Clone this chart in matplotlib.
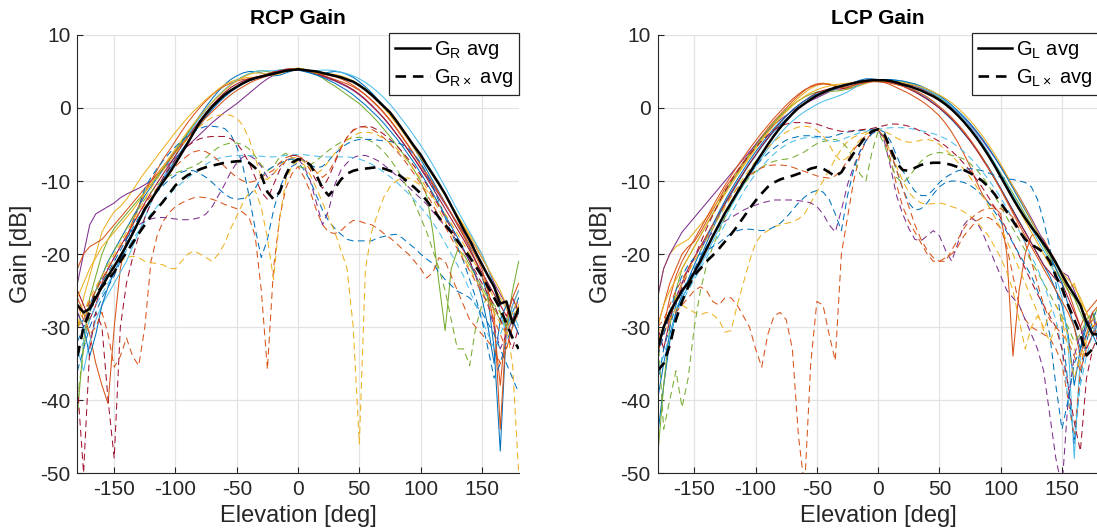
import numpy as np
import matplotlib.pyplot as plt

# elevation grid [deg], 5 deg steps
elev = list(range(-180, 185, 5))

# ---------------- RCP co-pol (solid), one per antenna ----------------
rcp_1 = [-30, -29, -27, -25, -23, -21, -19.5, -18, -16.5, -15, -13.5, -12,
         -10.8, -9.6, -8.4, -7.2, -6, -4.8, -3.5, -2.2, -1, 0.2, 1.3, 2.3,
         3.2, 3.9, 4.4, 4.8, 5.0, 5.0, 4.8, 4.6, 4.4, 4.5, 4.8, 5.1,
         5.3,
         5.1, 4.8, 4.6, 4.7, 4.9, 5.0, 4.9, 4.6, 4.2, 3.6, 2.9, 2.1,
         1.2, 0.3, -0.7, -1.8, -3, -4.3, -5.6, -7, -8.5, -10, -11.5, -13,
         -14.5, -16, -17.5, -19, -21, -23, -26, -33, -47, -30, -28, -26]
rcp_2 = [-26, -28, -31, -35, -38, -40.5, -30, -22, -18, -15.5, -13.5, -11.5,
         -10, -8.5, -7, -5.8, -4.5, -3.2, -2, -0.9, 0.1, 1.0, 1.8, 2.5,
         3.0, 3.4, 3.7, 3.9, 4.0, 4.2, 4.4, 4.7, 5.0, 5.2, 5.3, 5.3,
         5.2,
         5.1, 5.0, 4.8, 4.5, 4.2, 3.9, 3.6, 3.3, 2.9, 2.4, 1.8, 1.1,
         0.3, -0.6, -1.6, -2.7, -3.9, -5.1, -6.4, -7.7, -9, -10.3, -11.7, -13.1,
         -14.5, -16, -17.5, -19.2, -21, -23, -25, -28, -44, -30, -27, -25]
rcp_3 = [-30, -26, -23, -20, -17, -15.5, -14.2, -13.5, -12.5, -11.3, -10, -8.8,
         -7.7, -6.6, -5.5, -4.4, -3.3, -2.3, -1.3, -0.4, 0.4, 1.2, 1.9, 2.6,
         3.2, 3.6, 3.9, 4.1, 4.2, 4.2, 4.3, 4.4, 4.6, 4.9, 5.2, 5.4,
         5.4,
         5.3, 5.1, 4.9, 4.8, 4.7, 4.6, 4.4, 4.1, 3.7, 3.2, 2.6, 1.9,
         1.1, 0.2, -0.8, -1.9, -3.0, -4.2, -5.4, -6.6, -7.9, -9.2, -10.5, -11.9,
         -13.3, -14.7, -16, -17.3, -18.6, -20, -22, -24.5, -26, -27.5, -29, -27]
rcp_4 = [-24, -20, -16, -14.5, -14, -13.5, -13, -12.3, -11.8, -11.4, -11, -10.5,
         -10, -9.2, -8.4, -7.6, -6.8, -6, -5.2, -4.4, -3.6, -2.8, -2, -1.3,
         -0.6, 0, 0.6, 1.3, 2.0, 2.7, 3.4, 4.0, 4.5, 4.9, 5.2, 5.4,
         5.3,
         5.1, 4.9, 4.6, 4.3, 4.0, 3.7, 3.3, 2.9, 2.4, 1.8, 1.1, 0.3,
         -0.5, -1.4, -2.4, -3.5, -4.6, -5.8, -7, -8.2, -9.4, -10.6, -11.9, -13.2,
         -14.5, -15.8, -17, -18, -19, -20.5, -22, -24, -25.5, -27, -29, -31]
rcp_5 = [-42, -32, -26, -23, -20, -18, -16.5, -15.5, -14.5, -13.5, -12.5, -11.5,
         -10.5, -9.4, -8.2, -7, -5.8, -4.6, -3.4, -2.3, -1.2, -0.2, 0.8, 1.7,
         2.5, 3.2, 3.8, 4.3, 4.7, 5.0, 5.1, 5.0, 4.8, 4.8, 5.0, 5.2,
         5.4,
         5.3, 5.0, 4.6, 4.1, 3.5, 3.0, 2.4, 1.8, 1.2, 0.6, -0.2, -1.0,
         -1.9, -2.9, -3.9, -5.0, -6.1, -7.3, -8.6, -10, -12, -17, -24, -30.5,
         -22, -19.5, -20, -21.5, -23, -24.5, -26, -27.5, -29, -30, -25, -21]
rcp_6 = [-33, -36, -32, -29, -27, -25.5, -24, -22.5, -21, -19, -17, -15,
         -13, -11.2, -9.5, -8, -6.6, -5.2, -3.8, -2.5, -1.3, -0.2, 0.8, 1.7,
         2.5, 3.2, 3.8, 4.3, 4.7, 5.0, 5.1, 5.1, 5.1, 5.2, 5.3, 5.4,
         5.3,
         5.2, 5.1, 5.1, 5.2, 5.2, 5.1, 4.9, 4.7, 4.4, 4.0, 3.5, 2.9,
         2.2, 1.4, 0.5, -0.5, -1.6, -2.7, -3.9, -5.1, -6.4, -7.8, -9.3, -10.8,
         -12.4, -14, -15.5, -17, -18.5, -20, -22, -24.5, -28, -31, -27, -25]
rcp_7 = [-25, -27, -29, -27, -24, -22, -20.5, -19, -17.5, -16, -14.5, -13,
         -11.6, -10.3, -9, -7.8, -6.5, -5.2, -4, -2.8, -1.7, -0.6, 0.4, 1.3,
         2.1, 2.8, 3.3, 3.7, 4.0, 4.2, 4.4, 4.6, 4.9, 5.1, 5.3, 5.4,
         5.3,
         5.1, 4.9, 4.7, 4.4, 4.1, 3.8, 3.4, 3.0, 2.5, 1.9, 1.2, 0.4,
         -0.5, -1.4, -2.4, -3.5, -4.6, -5.8, -7, -8.3, -9.6, -11, -12.4, -13.8,
         -15.2, -16.6, -18, -19.5, -21, -22.5, -24, -25.5, -27, -28.5, -26, -28]
rcp_8 = [-28, -30, -34, -31, -27, -24.5, -22.5, -20.7, -19, -17.3, -15.7, -14.1,
         -12.6, -11.2, -9.8, -8.4, -7.1, -5.8, -4.6, -3.4, -2.3, -1.2, -0.2, 0.7,
         1.5, 2.2, 2.8, 3.3, 3.7, 4.0, 4.3, 4.5, 4.6, 4.8, 5.0, 5.2,
         5.2,
         5.0, 4.8, 4.5, 4.2, 3.8, 3.4, 2.9, 2.4, 1.8, 1.1, 0.4, -0.4,
         -1.2, -2.1, -3.1, -4.1, -5.2, -6.4, -7.6, -8.9, -10.3, -11.7, -13.2, -14.7,
         -16.2, -17.7, -19.3, -21, -23, -26, -30, -35, -29, -27, -29, -31]
rcp_9 = [-22, -20, -19, -18.5, -18, -17, -16, -15, -14, -13, -12, -11,
         -10, -9, -8, -7, -6, -5, -4, -3.1, -2.2, -1.3, -0.5, 0.3,
         1.1, 1.8, 2.4, 2.9, 3.4, 3.8, 4.1, 4.4, 4.7, 5.0, 5.2, 5.4,
         5.4,
         5.2, 5.0, 4.8, 4.6, 4.5, 4.3, 4.0, 3.6, 3.1, 2.5, 1.8, 1.0,
         0.2, -0.7, -1.7, -2.8, -4.0, -5.2, -6.5, -7.8, -9.1, -10.4, -11.7, -13,
         -14.4, -15.8, -17.2, -18.7, -20.3, -22, -25, -30, -38, -29, -26, -24]
rcp_10 = [-26, -24, -22, -20.5, -19, -18, -17, -16, -15, -14, -12.8, -11.6,
          -10.4, -9.2, -8, -6.8, -5.6, -4.4, -3.2, -2.1, -1.1, -0.1, 0.8, 1.6,
          2.4, 3.1, 3.7, 4.2, 4.6, 4.8, 4.8, 4.6, 4.5, 4.7, 5.0, 5.3,
          5.5,
          5.3, 5.0, 4.8, 4.7, 4.6, 4.4, 4.2, 3.9, 3.5, 3.0, 2.4, 1.7,
          0.9, 0.0, -1.0, -2.1, -3.2, -4.4, -5.6, -6.8, -8.0, -9.3, -10.6, -12,
          -13.4, -14.8, -16.2, -17.6, -19, -20.5, -22, -23.5, -25, -27, -29, -27]

# ---------------- RCP cross-pol (dashed) ----------------
rcpx_1 = [-36, -33, -30, -28, -26, -24.5, -23, -21, -18.5, -16, -13.5, -11,
          -9.5, -8.3, -7.2, -6.2, -5.3, -4.5, -3.8, -3.2, -2.8, -2.5, -2.5, -2.6,
          -2.8, -3.6, -5.3, -8, -12, -16.5, -20.5, -18, -14, -11, -9, -8,
          -7.5,
          -8.5, -10, -12, -14, -15.5, -16.5, -17.3, -18, -18.2, -18.2, -18.2, -18.2,
          -17.8, -17.6, -17.4, -17.3, -17.8, -18.5, -19.2, -20, -20.7, -21.3, -22.5, -23.5,
          -24.3, -25.1, -25.5, -26, -27, -28, -29.5, -31, -33, -35, -37, -39]
rcpx_2 = [-27, -29, -31, -30, -28, -31, -35.5, -34, -31.5, -34, -35.3, -30,
          -21, -17.5, -15.5, -14.3, -13.5, -13, -12.6, -12.3, -12.2, -12.3, -12.5, -12.8,
          -13.2, -13.5, -13.8, -14.3, -15, -17.5, -25, -35.8, -22, -15, -11, -9,
          -8,
          -9.5, -11.5, -14, -16, -17, -17.2, -16.8, -16, -15.4, -15.5, -15.8, -16,
          -16.5, -17.2, -17.8, -18.5, -19.3, -20, -21, -22, -23.3, -22.5, -20.5, -21,
          -23, -25, -27, -29, -30, -31, -32, -33, -35, -33, -30, -28]
rcpx_3 = [-30, -29, -27, -25, -23.5, -22.5, -21.5, -21, -20.5, -20.3, -20.5, -21,
          -21.2, -21.3, -21.5, -22, -22, -21, -20, -19.6, -20, -20.5, -21, -20,
          -18.6, -16.5, -14.8, -13, -11.6, -11.3, -13.6, -17.8, -23.5, -15, -10, -8,
          -7.2,
          -7.8, -9.2, -11, -13, -15, -17, -19.5, -22, -30, -46, -22, -17,
          -14.4, -12.2, -10.8, -10, -9.6, -9.6, -10, -10.6, -11.3, -12.2, -13.3, -14.5,
          -15.8, -17.2, -18.6, -20, -21.5, -23, -24.5, -26, -28, -30, -35, -50]
rcpx_4 = [-28, -30, -27, -25, -23.5, -22, -20.5, -19, -17.8, -16.8, -16, -15.5,
          -15.2, -15, -15, -15.1, -15.2, -15.3, -15.3, -15.2, -15, -14.5, -13.5, -12,
          -10.5, -8.8, -7.5, -6.7, -6.5, -7, -8, -9.5, -9, -8, -7.2, -6.8,
          -7,
          -8, -10, -13, -16, -14, -10.5, -8.5, -7.5, -6.8, -6.5, -6.5, -6.8,
          -7.2, -7.8, -8.5, -9.2, -10, -10.8, -11.6, -12.4, -13.2, -14.2, -15.2, -16.2,
          -17.2, -18.2, -19.5, -21, -23, -25, -27, -30, -33, -31, -29, -26]
rcpx_5 = [-40, -33, -28, -25, -23, -21, -19.5, -18, -16.5, -15, -13.7, -12.5,
          -11.5, -10.6, -9.8, -9.3, -8.9, -8.6, -8.3, -8, -7.5, -6.8, -6, -5.4,
          -5.0, -4.8, -4.8, -5.0, -5.6, -6.6, -7.8, -8.6, -8.0, -6.7, -6.2, -7.0,
          -8,
          -8.2, -7.8, -7.2, -6.5, -5.8, -5.2, -4.7, -4.3, -4.1, -4.0, -4.2, -4.6,
          -5.2, -6, -7, -8.2, -9.6, -11.2, -13, -15, -17, -19.5, -22, -25,
          -29, -33, -33, -35.3, -30, -27, -26, -27, -28, -30, -29, -28]
rcpx_6 = [-34, -32, -29, -27, -25.5, -24, -22.5, -21, -19.5, -18, -16.8, -15.6,
          -14.5, -13.5, -12.6, -11.8, -11, -10.3, -9.6, -8.9, -8.3, -7.7, -7.2, -6.9,
          -6.7, -6.6, -6.5, -6.5, -6.5, -6.6, -6.6, -6.7, -6.7, -6.6, -6.5, -6.4,
          -6.4,
          -6.4, -6.5, -6.6, -6.7, -6.7, -6.7, -6.7, -6.7, -6.8, -7, -7.3, -7.7,
          -8.2, -8.8, -9.4, -10.1, -10.9, -11.7, -12.6, -13.6, -14.6, -15.7, -17, -18.5,
          -20, -21.5, -23, -25, -27, -29, -31, -33, -31, -29, -28, -30]
rcpx_7 = [-38, -50, -33, -28, -30, -40, -48, -30, -24, -20.5, -17.5, -15,
          -13, -11, -9.5, -8.2, -7, -6, -5.2, -4.6, -4.2, -4, -3.9, -3.9,
          -3.9, -4.2, -4.8, -6, -7.5, -9.5, -11.5, -12.5, -10.5, -8.5, -7.2, -6.5,
          -6.5,
          -7.2, -8.5, -10, -11, -9.5, -7.5, -5.5, -4, -3, -2.6, -2.5, -2.6,
          -3, -3.6, -4.3, -5.1, -6, -7, -8, -9.2, -10.5, -12, -13.5, -15,
          -16.5, -18, -19.5, -21, -22.5, -24, -25.5, -27, -29, -31, -33, -30]
rcpx_8 = [-32, -30, -28, -26, -24, -22.5, -21, -19.5, -18, -16.5, -15, -13.7,
          -12.5, -11.5, -10.6, -9.8, -9.2, -8.8, -8.5, -8.6, -9, -9.5, -10.2, -11,
          -11.8, -12.3, -12.5, -12.4, -12, -11, -9.5, -8.5, -8, -7.6, -7.2, -7,
          -7,
          -7.3, -7.8, -8.2, -8, -7.2, -6.3, -5.5, -4.9, -4.5, -4.3, -4.3, -4.3,
          -4.4, -4.5, -4.6, -4.7, -5, -5.6, -6.4, -7.5, -9, -10.8, -12.8, -15,
          -17, -19, -21, -23.5, -26, -29, -33, -37, -35, -32, -30, -28]
rcpx_9 = [-30, -28, -26.5, -25, -23.5, -22, -20.5, -19, -17.5, -16, -14.5, -13.2,
          -12, -11, -10, -9, -8, -7.2, -6.5, -6, -5.8, -6, -6.5, -7.2,
          -8, -8.8, -9.5, -10, -10.2, -10, -9.5, -9, -8.5, -7.5, -6.8, -6.5,
          -6.6,
          -7, -7.8, -8.8, -9.5, -8.8, -7.2, -5.5, -4, -3.1, -2.6, -2.6, -2.9,
          -3.4, -4.1, -4.9, -5.8, -6.8, -7.9, -9.1, -10.4, -11.8, -13.3, -14.8, -16.3,
          -17.8, -19.3, -20.8, -22.3, -23.8, -25.3, -27, -29, -31, -33, -30, -28]
rcpx_10 = [-30, -28, -26, -24.5, -23, -21.5, -20, -18.5, -17, -15.5, -14, -12.5,
           -11, -9.7, -8.5, -7.3, -6.2, -5.2, -4.2, -3.3, -2.5, -1.8, -1.3, -1.0,
           -0.9, -1.0, -1.4, -2.4, -4.2, -6.8, -9.5, -9.8, -9, -8, -7.2, -6.8,
           -6.8,
           -7.4, -8.3, -9, -8.4, -7.3, -6.2, -5.2, -4.4, -3.8, -3.4, -3.3, -3.4,
           -3.7, -4.2, -4.8, -5.5, -6.4, -7.4, -8.5, -9.7, -11, -12.5, -14, -15.6,
           -17.2, -18.8, -20.5, -22, -23.5, -25, -26.5, -28, -29.5, -31, -28, -26]

rcp_avg = [-27, -28, -27.5, -26, -24.5, -23, -21.7, -20.3, -18.8, -17.2, -15.5, -13.8,
           -12.6, -11.3, -10.1, -8.9, -7.6, -6.2, -4.8, -3.3, -1.9, -0.8, 0.2, 1.0,
           1.8, 2.4, 2.9, 3.4, 3.8, 4.1, 4.3, 4.5, 4.7, 4.9, 5.1, 5.2,
           5.3,
           5.2, 5.1, 5.0, 4.8, 4.6, 4.4, 4.2, 3.9, 3.6, 3.1, 2.5, 1.8,
           1.0, 0.2, -0.6, -1.7, -2.9, -4.1, -5.3, -6.4, -7.8, -9.1, -10.4, -11.8,
           -13.4, -15, -16.6, -18.1, -19.8, -21.4, -23, -24.5, -26.8, -26.5, -29.5, -27.5]
rcpx_avg = [-34, -30, -28, -25.5, -24.5, -23.5, -22.5, -21, -19.8, -18.5, -17.2, -16,
            -14.8, -13.8, -12.8, -11.7, -10.6, -9.8, -9.2, -8.8, -8.4, -8.1, -7.9, -7.7,
            -7.5, -7.4, -7.3, -7.3, -7.5, -8.2, -9.2, -11.5, -12.5, -11.5, -9.2, -7.5,
            -7.0,
            -7.2, -7.8, -9.2, -11, -12, -11, -9.8, -9.0, -8.6, -8.4, -8.3, -8.2,
            -8.1, -8.3, -8.6, -8.9, -9.5, -10.2, -10.9, -11.7, -12.7, -13.8, -15, -16,
            -17, -18.2, -19.3, -20.4, -21.7, -23, -24.5, -26, -27.5, -29.5, -31.5, -33]

# ---------------- LCP co-pol (solid) ----------------
lcp_1 = [-45, -38, -32, -28, -26, -24.5, -22.5, -20.5, -18.5, -16.5, -14.8, -13.2,
         -11.8, -10.4, -9, -7.7, -6.5, -5.3, -4.2, -3.2, -2.3, -1.5, -0.7, 0.0,
         0.6, 1.2, 1.7, 2.1, 2.5, 2.8, 3.1, 3.3, 3.4, 3.6, 3.8, 3.9,
         3.8,
         3.7, 3.6, 3.4, 3.1, 2.7, 2.3, 1.8, 1.3, 0.7, 0.0, -0.8, -1.6,
         -2.5, -3.5, -4.5, -5.6, -6.8, -8.1, -9.5, -11, -12.5, -14, -15.5, -17,
         -18.5, -20, -21.5, -23, -25, -27, -31, -38, -33, -30, -28, -31]
lcp_2 = [-30, -27, -24, -22, -20, -19, -18.3, -17, -15.5, -14, -12.5, -11,
         -9.8, -8.6, -7.4, -6.2, -5, -3.9, -2.8, -1.8, -0.9, 0, 0.9, 1.7,
         2.4, 3.0, 3.3, 3.4, 3.3, 3.0, 2.7, 2.6, 2.8, 3.1, 3.4, 3.6,
         3.7,
         3.5, 3.2, 2.8, 2.4, 2.0, 1.5, 1.0, 0.4, -0.3, -1.1, -2.1, -3.3,
         -4.7, -6.3, -8, -10, -11.8, -13, -13.6, -14.5, -20, -34, -25, -20,
         -17.5, -17.2, -18, -19.5, -21, -23, -25, -27.5, -30, -28, -27, -26]
lcp_3 = [-26, -22, -20, -19, -18.5, -18, -17, -16, -15, -13.8, -12.6, -11.4,
         -10.2, -9, -7.8, -6.6, -5.4, -4.3, -3.2, -2.2, -1.2, -0.3, 0.6, 1.4,
         2.1, 2.7, 3.1, 3.3, 3.3, 3.1, 2.8, 2.7, 2.8, 3.1, 3.4, 3.7,
         3.8,
         3.8, 3.7, 3.6, 3.4, 3.2, 3.0, 2.7, 2.3, 1.8, 1.2, 0.5, -0.3,
         -1.1, -2, -3, -4.1, -5.3, -6.6, -8, -9.5, -11, -12.5, -14, -15.5,
         -17, -18.5, -20, -21.5, -22.5, -23.5, -25, -24, -26.5, -28, -30, -32]
lcp_4 = [-26, -22, -20, -18.5, -17, -16, -15, -14, -13, -12, -11, -10,
         -9, -8, -7, -6, -5, -4, -3.1, -2.3, -1.6, -1, -0.4, 0.1,
         0.6, 1.0, 1.4, 1.8, 2.2, 2.6, 3.0, 3.3, 3.5, 3.7, 3.8, 3.9,
         3.8,
         3.8, 3.7, 3.6, 3.4, 3.2, 3.0, 2.7, 2.3, 1.9, 1.4, 0.8, 0.1,
         -0.6, -1.4, -2.3, -3.3, -4.4, -5.6, -6.8, -8, -9.3, -10.7, -12.1, -13.6,
         -15.1, -16.7, -18.2, -19.7, -21.2, -22.5, -23, -25, -27, -30, -28, -33]
lcp_5 = [-48, -38, -30, -25, -22, -20.5, -19, -17.5, -16, -14.5, -13, -11.6,
         -10.2, -8.9, -7.6, -6.4, -5.2, -4.1, -3, -2, -1.1, -0.3, 0.4, 1.0,
         1.5, 1.9, 2.2, 2.3, 2.3, 2.3, 2.4, 2.6, 2.9, 3.2, 3.5, 3.7,
         3.7,
         3.8, 3.8, 3.7, 3.6, 3.4, 3.2, 2.9, 2.5, 2.0, 1.4, 0.7, -0.1,
         -1, -1.9, -2.9, -4, -5.1, -6.3, -7.6, -8.9, -10.3, -11.7, -13.1, -14.6,
         -16, -17.5, -19, -20.5, -22, -23.5, -25, -26, -28, -30, -29, -27]
lcp_6 = [-33, -30, -28.5, -27.5, -26, -24.5, -23, -21.5, -20, -18.3, -16.6, -15,
         -13.5, -12, -10.6, -9.3, -8, -6.8, -5.6, -4.5, -3.5, -2.6, -1.8, -1.1,
         -0.5, 0.0, 0.5, 0.9, 1.2, 1.5, 1.8, 2.2, 2.7, 3.2, 3.6, 3.9,
         3.9,
         3.9, 3.9, 3.8, 3.6, 3.4, 3.1, 2.8, 2.4, 2.0, 1.5, 0.9, 0.2,
         -0.6, -1.5, -2.5, -3.6, -4.8, -6.1, -7.5, -9, -10.5, -12, -13.5, -15,
         -16.5, -18, -19.5, -21, -23, -26, -32, -48, -34, -31, -30, -31]
lcp_7 = [-30, -33, -29, -26, -24, -22, -20.5, -19, -17.5, -16, -14.5, -13,
         -11.6, -10.2, -8.9, -7.6, -6.4, -5.2, -4.1, -3, -2, -1.1, -0.3, 0.4,
         1.0, 1.6, 2.1, 2.4, 2.6, 2.6, 2.6, 2.8, 3.1, 3.4, 3.6, 3.7,
         3.6,
         3.6, 3.5, 3.3, 3.0, 2.6, 2.2, 1.7, 1.2, 0.6, 0.0, -0.7, -1.5,
         -2.4, -3.4, -4.5, -5.7, -7, -8.3, -9.7, -11.1, -12.6, -14.1, -15.6, -17,
         -18.5, -20, -21.5, -22.5, -23.5, -24, -26, -28, -30, -33, -31, -29]
lcp_8 = [-40, -35, -31, -28, -25.5, -23.5, -21.5, -19.6, -17.8, -16, -14.3, -12.7,
         -11.2, -9.8, -8.5, -7.2, -6, -4.9, -3.8, -2.8, -1.9, -1.1, -0.3, 0.4,
         1.0, 1.5, 1.9, 2.2, 2.4, 2.6, 2.9, 3.2, 3.5, 3.8, 4.0, 4.0,
         3.9,
         3.9, 3.9, 3.8, 3.7, 3.5, 3.3, 3.0, 2.6, 2.2, 1.7, 1.1, 0.4,
         -0.4, -1.2, -2.1, -3.1, -4.2, -5.4, -6.7, -8.1, -9.5, -11, -12.5, -14,
         -15.5, -17, -18.5, -20, -22, -24, -27, -30, -33, -29, -31, -33]
lcp_9 = [-34, -30, -26, -23, -21, -19.5, -18, -16.5, -15, -13.5, -12, -10.6,
         -9.3, -8, -6.8, -5.6, -4.5, -3.4, -2.4, -1.4, -0.5, 0.4, 1.2, 1.9,
         2.5, 2.9, 3.2, 3.3, 3.2, 3.0, 2.8, 2.9, 3.1, 3.3, 3.5, 3.6,
         3.6,
         3.5, 3.4, 3.2, 3.0, 2.7, 2.4, 2.0, 1.5, 0.9, 0.2, -0.5, -1.3,
         -2.2, -3.2, -4.3, -5.5, -6.8, -8.2, -9.7, -11.2, -12.8, -14.4, -16, -17.5,
         -19, -20.5, -22, -23.5, -25, -26.5, -28, -30, -34, -31, -28, -27]
lcp_10 = [-30, -27, -25, -23.5, -22, -20.5, -19, -17.5, -16, -14.6, -13.2, -11.8,
          -10.5, -9.2, -8, -6.8, -5.6, -4.5, -3.4, -2.4, -1.4, -0.5, 0.3, 1.0,
          1.6, 2.1, 2.5, 2.8, 3.0, 3.2, 3.3, 3.4, 3.5, 3.6, 3.7, 3.7,
          3.7,
          3.7, 3.7, 3.6, 3.5, 3.3, 3.1, 2.9, 2.6, 2.2, 1.8, 1.3, 0.7,
          0.0, -0.8, -1.7, -2.7, -3.8, -5, -6.3, -7.7, -9.2, -10.7, -12.2, -13.8,
          -15.4, -17, -18.5, -20, -21.5, -22.5, -23.5, -24.5, -26, -28, -30, -29]

# ---------------- LCP cross-pol (dashed) ----------------
lcpx_1 = [-38, -33, -30, -27, -25, -23.5, -22, -20.5, -19, -17.5, -16, -14.5,
          -13, -11.5, -10.2, -9, -8, -7, -6.2, -5.5, -4.9, -4.4, -4.1, -3.9,
          -3.8, -3.8, -3.9, -4.0, -4.0, -3.8, -3.5, -3.3, -3.2, -3.1, -3.0, -2.9,
          -2.9,
          -3.3, -4.5, -6.5, -8.5, -10.2, -11.4, -12, -12, -11.2, -10.2, -9.5, -9,
          -8.6, -8.4, -8.3, -8.4, -8.6, -8.9, -9.2, -9.5, -9.7, -9.8, -10, -10.2,
          -10.8, -12.5, -15.5, -19, -24, -30, -38, -46, -37, -32, -29, -27]
lcpx_2 = [-32, -30, -29, -28, -27, -26, -25, -24.5, -25, -26.5, -27, -26,
          -26, -27, -28.5, -30, -33, -35.5, -31, -28.5, -28, -29, -33, -45,
          -52, -35, -26.5, -27, -31, -34.6, -20, -15, -10, -6.5, -4.5, -3.3,
          -2.9,
          -4.2, -7, -10.5, -13.5, -15.5, -17, -18.5, -20, -21, -21, -20.5, -20,
          -19, -17.5, -16.5, -15.5, -15, -15, -15.5, -16.5, -19, -23, -27, -29,
          -30, -30.5, -31, -31.5, -33, -35, -40, -45, -36, -31, -30, -29]
lcpx_3 = [-30, -31, -29, -27.5, -27, -27.5, -28, -28.3, -28, -28.3, -29, -30.7,
          -30.5, -27, -24, -21, -18.5, -17.3, -16.8, -16.3, -16, -15.8, -15.6, -15.2,
          -14.5, -13, -11.5, -10, -8.5, -7, -5.6, -4.6, -4, -3.6, -3.3, -3.1,
          -3,
          -4, -6, -8, -10, -11.5, -12.5, -13, -13.2, -13.1, -13, -13.2, -13.5,
          -13.8, -14.2, -14.8, -15.5, -16.5, -17.5, -19, -20.5, -22.5, -25, -29, -33,
          -30, -28.5, -30, -32, -30, -29, -31, -33, -35, -32, -30, -29]
lcpx_4 = [-33, -30, -28, -26, -24, -22, -20.5, -19, -18, -17, -16.2, -15.5,
          -15, -14.5, -14, -13.6, -13.3, -13, -12.8, -12.6, -12.6, -12.6, -12.6, -12.7,
          -12.8, -13, -13.5, -14.5, -16, -17, -14, -10.5, -8, -6, -4.5, -3.5,
          -3,
          -4.5, -8, -12, -14.5, -16.5, -18, -18.2, -17.5, -16.8, -17.5, -19.5, -21,
          -18.5, -16, -15, -15.5, -17, -19, -21, -23, -25, -26, -27, -29,
          -31, -33, -36, -42, -48, -52, -40, -34, -31, -30, -29, -30]
lcpx_5 = [-30, -44, -40, -36, -41, -37, -30, -25, -21.5, -19, -17, -15,
          -13.3, -11.8, -10.5, -9.5, -8.7, -8.1, -7.6, -7.3, -7.1, -7, -6.8, -6.4,
          -6, -5.4, -4.9, -4.6, -4.4, -4.3, -4.6, -5.5, -7, -9, -10, -6,
          -3.2,
          -5, -7.5, -9.5, -10.3, -9.5, -8.3, -7.3, -6.6, -6.2, -6.1, -6.2, -6.5,
          -6.7, -7, -7.6, -8.4, -9.4, -10.6, -12, -13.5, -15, -16.5, -18, -19.5,
          -21, -22.5, -24, -25.5, -27, -28.5, -30, -32, -31, -29, -28, -30]
lcpx_6 = [-36, -34, -31, -28.5, -26.5, -25, -23.5, -22, -20.5, -19, -17.5, -16,
          -14.5, -13, -11.5, -10.2, -9, -8, -7.1, -6.3, -5.6, -5, -4.6, -4.3,
          -4.1, -4.0, -4.1, -4.3, -4.5, -4.6, -4.4, -4.0, -3.7, -3.4, -3.2, -3.0,
          -2.9,
          -2.8, -2.7, -2.7, -2.7, -2.8, -2.9, -3.1, -3.3, -3.5, -3.8, -4.2, -4.7,
          -5.3, -6, -6.8, -7.7, -8.7, -9.8, -11, -12.3, -13.7, -15.2, -16.8, -18.5,
          -20.3, -22, -24, -26.5, -29, -33, -40, -45, -38, -34, -31, -29]
lcpx_7 = [-34, -31, -28.5, -26.5, -24.5, -22.5, -20.5, -18.5, -16.5, -14.7, -13, -11.4,
          -10, -8.7, -7.5, -6.4, -5.4, -4.5, -3.7, -3, -2.5, -2.2, -2.0, -2.0,
          -2.0, -2.1, -2.2, -2.5, -2.8, -3.0, -3.2, -3.2, -3.1, -3.0, -2.9, -2.8,
          -2.6,
          -2.4, -2.2, -2.2, -2.3, -2.5, -2.8, -3.2, -3.6, -4.1, -4.6, -5.2, -5.9,
          -6.7, -7.6, -8.6, -9.7, -10.9, -12.2, -13.6, -15.1, -16.7, -18.4, -20.2, -22,
          -23.8, -25.5, -27, -28.5, -30, -33, -38, -43, -47, -37, -33, -31]
lcpx_8 = [-34, -31, -28, -25, -23, -21.5, -20.5, -20, -19.5, -19, -18.5, -17.8,
          -17.2, -16.8, -16.6, -16.6, -16.7, -16.8, -16.7, -16.3, -15.8, -15, -14, -13,
          -12.2, -11.6, -11.3, -11.5, -12.5, -14.5, -16.8, -12, -8.5, -6, -4.5, -3.5,
          -3.1,
          -4, -6, -8.5, -11, -13, -14, -13.8, -13, -11.8, -10.8, -10.2, -10,
          -10, -10.2, -10.6, -11.2, -12, -13, -14.2, -15.5, -17, -18.5, -20, -21.5,
          -23, -25, -27.5, -31, -38, -44, -40, -35, -33, -31, -30, -32]
lcpx_9 = [-30, -29, -27, -25, -23.5, -22, -20.5, -19, -17.5, -16, -14.6, -13.3,
          -12.1, -11, -10, -9.2, -8.6, -8.2, -7.9, -7.8, -7.8, -7.9, -8.1, -8.4,
          -8.7, -9, -9.3, -9.5, -9.6, -9.3, -8.5, -7.2, -5.8, -4.6, -3.8, -3.3,
          -3,
          -4, -6, -8.5, -11, -13.5, -16, -18, -19.5, -20.5, -21, -21, -19.5,
          -18, -16.5, -15.3, -14.5, -14, -13.8, -13.7, -13.8, -14.2, -15, -16.5, -18.5,
          -21, -24, -27, -29, -30, -31, -32, -34, -36, -33, -31, -30]
lcpx_10 = [-32, -30, -28, -26, -24, -22.5, -21, -19.5, -18, -16.5, -15, -13.6,
           -12.2, -10.9, -9.6, -8.4, -7.3, -6.3, -5.4, -4.6, -3.9, -3.3, -2.9, -2.6,
           -2.5, -2.6, -3.0, -3.8, -5.0, -6.5, -7.3, -6.8, -5.5, -4.4, -3.6, -3.1,
           -2.9,
           -3.2, -3.6, -4.1, -4.5, -4.7, -4.6, -4.4, -4.3, -4.5, -5, -5.7, -6.5,
           -7.4, -8.4, -9.5, -10.7, -12, -13.4, -14.9, -16.5, -18.2, -20, -22, -24,
           -26, -28, -30.5, -28, -27, -29, -33, -37, -34, -31, -29, -28]

lcp_avg = [-33, -30, -28, -26.5, -25, -24, -22.5, -21, -19.3, -17.6, -16, -14.4,
           -13, -11.6, -10.2, -8.9, -7.6, -6.3, -5, -3.8, -2.7, -1.7, -0.8, 0.0,
           0.6, 1.2, 1.7, 2.1, 2.5, 2.8, 3.0, 3.2, 3.4, 3.6, 3.7, 3.8,
           3.8,
           3.8, 3.7, 3.5, 3.2, 3.0, 2.7, 2.4, 2.0, 1.6, 1.1, 0.5, -0.2,
           -1.0, -1.9, -2.9, -4.0, -5.2, -6.5, -7.9, -9.4, -10.9, -12.4, -13.8, -15.1,
           -16.3, -17.4, -18.6, -19.8, -21.2, -22.8, -24.3, -25.6, -27, -29.3, -31, -31]
lcpx_avg = [-36, -35, -32.5, -29, -26.5, -24.5, -22.9, -22, -21, -20.2, -19.3, -18.3,
            -17.3, -16.2, -15, -13.8, -12.7, -11.7, -10.8, -10.2, -9.8, -9.5, -9.3, -9.0,
            -8.7, -8.3, -8.1, -8.3, -8.8, -9.4, -8.8, -7.5, -6.2, -5.0, -3.9, -3.2,
            -2.9,
            -3.6, -5.5, -7.5, -8.5, -8.6, -8.2, -7.8, -7.6, -7.5, -7.5, -7.6, -7.8,
            -8.1, -8.5, -8.9, -9.4, -10, -10.8, -11.8, -13, -14.2, -15.5, -16.8, -18,
            -18.7, -19.2, -19.8, -21, -23, -24.7, -27, -29, -31, -33.9, -33, -32]

matlab_colors = ['#0072BD', '#D95319', '#EDB120', '#7E2F8E',
                 '#77AC30', '#4DBEEE', '#A2142F']

rcp_co = [rcp_1, rcp_2, rcp_3, rcp_4, rcp_5, rcp_6, rcp_7, rcp_8, rcp_9, rcp_10]
rcp_x = [rcpx_1, rcpx_2, rcpx_3, rcpx_4, rcpx_5, rcpx_6, rcpx_7, rcpx_8, rcpx_9, rcpx_10]
lcp_co = [lcp_1, lcp_2, lcp_3, lcp_4, lcp_5, lcp_6, lcp_7, lcp_8, lcp_9, lcp_10]
lcp_x = [lcpx_1, lcpx_2, lcpx_3, lcpx_4, lcpx_5, lcpx_6, lcpx_7, lcpx_8, lcpx_9, lcpx_10]

for g in rcp_co + rcp_x + lcp_co + lcp_x + [rcp_avg, rcpx_avg, lcp_avg, lcpx_avg]:
    assert len(g) == len(elev), len(g)

plt.rcParams['font.family'] = ['Liberation Sans', 'DejaVu Sans']
plt.rcParams['mathtext.fontset'] = 'custom'
plt.rcParams['mathtext.rm'] = 'Liberation Sans'
plt.rcParams['axes.unicode_minus'] = False

TXT = '#262626'
fig = plt.figure(figsize=(10.97, 5.31), dpi=100)
ax1 = fig.add_axes([0.0706, 0.1092, 0.4022, 0.8249])
ax2 = fig.add_axes([0.5994, 0.1092, 0.4022, 0.8249])


def draw(ax, co, cross, co_avg, cross_avg, title, lab_co, lab_x):
    for i, g in enumerate(co):
        ax.plot(elev, g, color=matlab_colors[i % 7], lw=0.75)
    for i, g in enumerate(cross):
        ax.plot(elev, g, color=matlab_colors[i % 7], lw=0.75, ls=(0, (6.5, 4.2)))
    h1, = ax.plot(elev, co_avg, color='k', lw=1.8)
    h2, = ax.plot(elev, cross_avg, color='k', lw=1.9, ls=(0, (4, 2.6)))

    ax.set_xlim(-180, 180)
    ax.set_ylim(-50, 10)
    ax.set_xticks([-150, -100, -50, 0, 50, 100, 150])
    ax.set_yticks([-50, -40, -30, -20, -10, 0, 10])
    ax.grid(True, color='#e3e3e3', lw=0.9)
    ax.set_axisbelow(True)
    for s in ['top', 'right']:
        ax.spines[s].set_visible(False)
    for s in ['left', 'bottom']:
        ax.spines[s].set_color(TXT)
        ax.spines[s].set_linewidth(0.8)
    ax.tick_params(direction='in', length=4, width=0.8, colors=TXT,
                   labelsize=15, pad=5)
    ax.set_title(title, fontsize=15, fontweight='bold', color='k', pad=8)
    ax.set_xlabel('Elevation [deg]', fontsize=17, color=TXT, labelpad=4)
    ax.set_ylabel('Gain [dB]', fontsize=17, color=TXT, labelpad=6)
    leg = ax.legend([h1, h2], [lab_co, lab_x], loc='upper right',
                    bbox_to_anchor=(1.0, 1.005), borderaxespad=0,
                    fontsize=14.5, handlelength=1.7, handletextpad=0.2,
                    labelspacing=0.3, borderpad=0.3, frameon=True,
                    fancybox=False, edgecolor=TXT, framealpha=1)
    leg.get_frame().set_linewidth(0.9)


draw(ax1, rcp_co, rcp_x, rcp_avg, rcpx_avg, 'RCP Gain',
     r'G$_\mathregular{R}$ avg', r'G$_\mathregular{R\times}$ avg')
draw(ax2, lcp_co, lcp_x, lcp_avg, lcpx_avg, 'LCP Gain',
     r'G$_\mathregular{L}$ avg', r'G$_\mathregular{L\times}$ avg')

fig.savefig('out.png', dpi=100)
